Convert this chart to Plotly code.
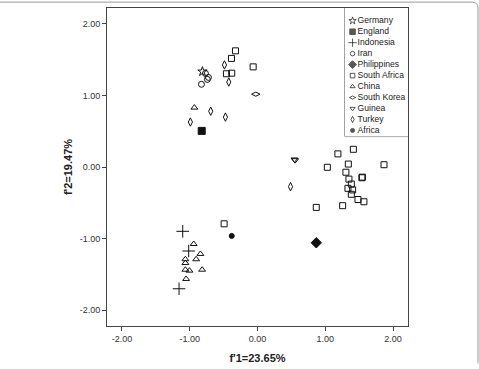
import plotly.graph_objects as go

# ---- data (f'1, f'2) per country ----
germany_x = [-0.812]
germany_y = [1.333]
england_x = [-0.823]
england_y = [0.504]
indonesia_x = [-1.103, -1.015, -1.157]
indonesia_y = [-0.898, -1.173, -1.700]
iran_x = [-0.768, -0.724, -0.739, -0.827]
iran_y = [1.306, 1.251, 1.223, 1.155]
philippines_x = [0.867]
philippines_y = [-1.058]
safrica_x = [-0.325, -0.384, -0.064, -0.458, -0.380,
             1.186, 1.414, 1.340, 1.866, 1.304, 1.349, 1.547, 1.540, 1.384,
             1.334, 1.403, 1.384, 1.482, 1.570, 1.256, 1.030, 0.867, -0.492]
safrica_y = [1.622, 1.516, 1.398, 1.302, 1.310,
             0.183, 0.247, 0.041, 0.032, -0.073, -0.169, -0.142, -0.150, -0.238,
             -0.298, -0.320, -0.381, -0.454, -0.485, -0.540, -0.004, -0.564, -0.793]
china_x = [-0.931, -0.941, -0.842, -0.905, -1.064, -1.064, -1.064, -1.004, -0.817, -1.053]
china_y = [0.829, -1.075, -1.214, -1.288, -1.288, -1.340, -1.434, -1.447, -1.434, -1.563]
skorea_x = [-0.025]
skorea_y = [1.017]
guinea_x = [0.545, 0.555]
guinea_y = [0.105, 0.095]
turkey_x = [-0.487, -0.424, -0.690, -0.473, -0.990, 0.487]
turkey_y = [1.425, 1.186, 0.779, 0.697, 0.628, -0.275]
africa_x = [-0.380]
africa_y = [-0.962]

names = ["Germany", "England", "Indonesia", "Iran", "Philippines", "South Africa",
         "China", "South Korea", "Guinea", "Turkey", "Africa"]
tick_vals = [-2, -1, 0, 1, 2]
tick_text = ["-2.00", "-1.00", "0.00", "1.00", "2.00"]
x_title = "f'1=23.65%"
y_title = "f'2=19.47%"

INK = "#111111"
FONT = "Liberation Sans, Arial"
styles = {
    "Germany": dict(symbol="star-open", size=7),
    "England": dict(symbol="square", size=7),
    "Indonesia": dict(symbol="cross-thin-open", size=9),
    "Iran": dict(symbol="circle-open", size=6),
    "Philippines": dict(symbol="diamond", size=8),
    "South Africa": dict(symbol="square-open", size=6),
    "China": dict(symbol="triangle-up-open", size=6),
    "South Korea": dict(symbol="diamond-wide-open", size=6),
    "Guinea": dict(symbol="triangle-down-open", size=6),
    "Turkey": dict(symbol="diamond-tall-open", size=6),
    "Africa": dict(symbol="circle", size=5),
}
series = {
    "Germany": (germany_x, germany_y),
    "England": (england_x, england_y),
    "Indonesia": (indonesia_x, indonesia_y),
    "Iran": (iran_x, iran_y),
    "Philippines": (philippines_x, philippines_y),
    "South Africa": (safrica_x, safrica_y),
    "China": (china_x, china_y),
    "South Korea": (skorea_x, skorea_y),
    "Guinea": (guinea_x, guinea_y),
    "Turkey": (turkey_x, turkey_y),
    "Africa": (africa_x, africa_y),
}

fig = go.Figure()
for n in names:
    xs, ys = series[n]
    st = styles[n]
    fig.add_trace(go.Scatter(
        x=xs, y=ys, mode="markers", name=n, showlegend=False,
        marker=dict(symbol=st["symbol"], size=st["size"], color=INK,
                    line=dict(color=INK, width=1)),
    ))

# custom compact legend drawn on an auxiliary axis pair
idx = list(range(len(names)))
fig.add_trace(go.Scatter(
    x=[0.12] * len(names), y=idx, mode="markers",
    marker=dict(symbol=[styles[n]["symbol"] for n in names],
                size=[min(6, max(4, styles[n]["size"] - 1.5)) for n in names], color=INK,
                line=dict(color=INK, width=1)),
    xaxis="x2", yaxis="y2", showlegend=False, hoverinfo="skip", cliponaxis=False,
))
fig.add_trace(go.Scatter(
    x=[0.2] * len(names), y=idx, mode="text", text=names, textposition="middle right",
    textfont=dict(size=8.6, color="#222", family=FONT),
    xaxis="x2", yaxis="y2", showlegend=False, hoverinfo="skip", cliponaxis=False,
))

L, R, T, B = 107, 71, 7, 38
W, H = 479, 369
pw, ph = W - L - R, H - T - B
lx0 = (345 - L) / pw
ly0 = (331 - 138) / ph

axis_common = dict(
    range=[-2.22, 2.22], tickvals=tick_vals, ticktext=tick_text,
    showgrid=False, zeroline=False, showline=True, mirror=True,
    linecolor="#444", linewidth=1, ticks="outside", ticklen=4,
    tickcolor="#444", tickfont=dict(size=9, color="#333", family=FONT),
)

fig.update_layout(
    width=W, height=H,
    margin=dict(l=L, r=R, t=T, b=B),
    paper_bgcolor="white", plot_bgcolor="white",
    xaxis=dict(**axis_common, title=dict(text=x_title, standoff=11,
               font=dict(size=11, color="#222", family=FONT, weight="bold"))),
    yaxis=dict(**axis_common, title=dict(text=y_title, standoff=4,
               font=dict(size=11, color="#222", family=FONT, weight="bold"))),
    xaxis2=dict(domain=[lx0, 1], range=[0, 1], visible=False, anchor="y2"),
    yaxis2=dict(domain=[ly0, 1], range=[10.56, -1.164], visible=False, anchor="x2"),
    shapes=[
        dict(type="rect", xref="paper", yref="paper", x0=lx0, x1=1, y0=ly0, y1=1,
             line=dict(color="#444", width=1), fillcolor="white", layer="below"),
        dict(type="path", xref="paper", yref="paper",
             path=f"M {-L/pw},{(331-1)/ph} L {(472-L)/pw},{(331-1)/ph} "
                  f"Q {(478-L)/pw},{(331-1)/ph} {(478-L)/pw},{(331-7)/ph} "
                  f"L {(478-L)/pw},{(331-369)/ph}",
             line=dict(color="#999", width=1)),
    ],
)

fig.write_html("out.html")
